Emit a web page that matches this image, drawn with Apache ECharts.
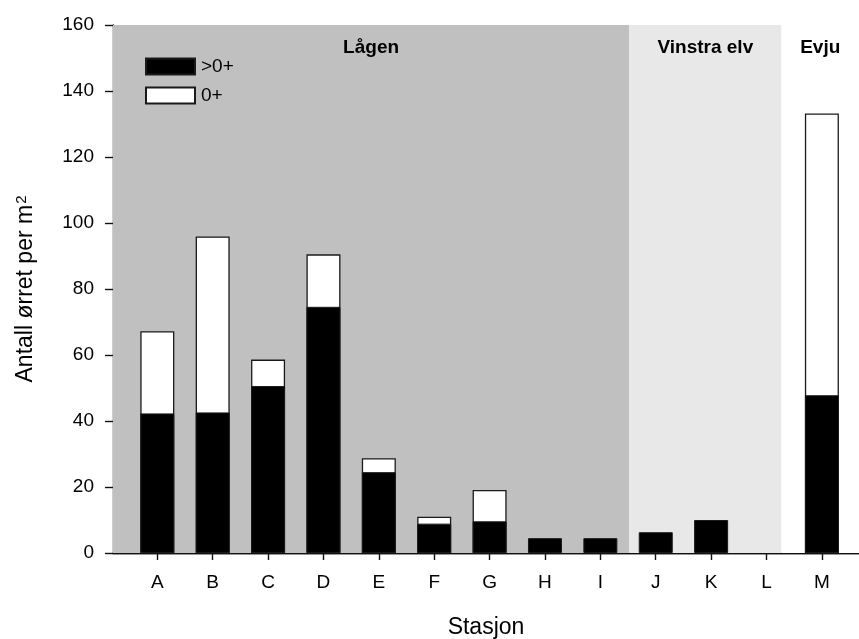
<!DOCTYPE html>
<html>
<head>
<meta charset="utf-8">
<script src="https://cdn.jsdelivr.net/npm/echarts@6/dist/echarts.min.js"></script>
<style>
  html, body { margin: 0; padding: 0; background: #fff; }
  #chart { width: 859px; height: 639px; }
</style>
</head>
<body>
<div id="chart"></div>
<script>
// Stations and trout densities (fish per m²)
const stations = ['A', 'B', 'C', 'D', 'E', 'F', 'G', 'H', 'I', 'J', 'K', 'L', 'M'];
const olderFish = [42.3, 42.6, 50.6, 74.6, 24.5, 8.9, 9.6, 4.5, 4.5, 6.3, 10.0, 0, 47.8];   // >0+
const fryFish   = [24.9, 53.3, 8.0, 15.9, 4.2, 2.1, 9.5, 0, 0, 0, 0, 0, 85.4];             // 0+
const yTicks = [0, 20, 40, 60, 80, 100, 120, 140, 160];

// River sections along the station axis (station positions are 1..13)
const sections = [
  { name: 'Lågen',       from: 0.2,   to: 9.52,  color: '#c0c0c0' },
  { name: 'Vinstra elv', from: 9.52,  to: 12.27, color: '#e8e8e8' },
  { name: 'Evju',        from: 12.27, to: 13.67, color: '#ffffff' }
];

const positions = stations.map((_, i) => i + 1);
const font = 'Liberation Sans, Arial, sans-serif';

// The 0+ part sits on top of the >0+ part: draw the full column in white,
// then the >0+ column in black over its lower portion.
const totalData = positions.map((p, i) =>
  fryFish[i] > 0 ? [p, +(olderFish[i] + fryFish[i]).toFixed(2)] : [p, null]);
const olderData = positions.map((p, i) =>
  olderFish[i] > 0 ? [p, olderFish[i]] : [p, null]);

const chart = echarts.init(document.getElementById('chart'), null, { renderer: 'canvas' });

chart.setOption({
  animation: false,
  backgroundColor: '#fff',
  textStyle: { fontFamily: font, color: '#000' },
  grid: { left: 113, right: 0, top: 25, bottom: 86, containLabel: false, outerBoundsMode: 'none' },
  legend: {
    orient: 'vertical',
    left: 140, top: 52,
    itemWidth: 49, itemHeight: 16, itemGap: 10,
    icon: 'rect',
    textStyle: { fontSize: 19, fontFamily: font, color: '#000', padding: [0, 0, 0, 1] },
    data: ['>0+', '0+']
  },
  xAxis: [{
    type: 'value',
    min: 0.2, max: 13.67,
    name: 'Stasjon',
    nameLocation: 'middle',
    nameGap: 63,
    nameTextStyle: { fontSize: 23, fontFamily: font, color: '#000', verticalAlign: 'top' },
    axisLine: { show: true, onZero: false, lineStyle: { color: '#111', width: 1.4 } },
    axisTick: { show: true, length: 7, customValues: positions, lineStyle: { color: '#111', width: 1.4 } },
    axisLabel: {
      customValues: positions,
      formatter: v => stations[Math.round(v) - 1] || '',
      fontSize: 19, color: '#000', fontFamily: font, margin: 20
    },
    splitLine: { show: false }
  }, {
    type: 'value',
    position: 'top',
    min: 0.2, max: 13.67,
    axisLine: { show: true, lineStyle: { color: '#111', width: 1.4 } },
    axisTick: { show: false },
    axisLabel: { show: false },
    splitLine: { show: false }
  }],
  yAxis: {
    type: 'value',
    min: 0, max: 160, interval: 20,
    name: 'Antall ørret per m{sup|2}',
    nameLocation: 'middle',
    nameGap: 75,
    nameRotate: 90,
    nameTextStyle: {
      fontSize: 23, fontFamily: font, color: '#000',
      rich: { sup: { fontSize: 15, verticalAlign: 'top', fontFamily: font, color: '#000', padding: [0, 0, 9, 1] } }
    },
    axisLine: { show: true, lineStyle: { color: '#111', width: 1.4 } },
    axisTick: { show: true, length: 8, lineStyle: { color: '#111', width: 1.4 } },
    axisLabel: {
      fontSize: 19, color: '#000', fontFamily: font, margin: 19,
      customValues: yTicks
    },
    splitLine: { show: false }
  },
  series: [{
    name: '0+',
    type: 'bar',
    barWidth: 34,
    itemStyle: { color: '#fff', borderColor: '#1a1a1a', borderWidth: 1.3 },
    data: totalData,
    markArea: {
      silent: true,
      itemStyle: { borderWidth: 0 },
      label: {
        position: 'insideTop', distance: 13,
        fontSize: 19, fontWeight: 'bold', color: '#000', fontFamily: font
      },
      data: sections.map(s => [
        { name: s.name, xAxis: s.from, yAxis: 0, itemStyle: { color: s.color, opacity: 1 } },
        { xAxis: s.to, yAxis: 160 }
      ])
    },
    z: 2
  }, {
    name: '>0+',
    type: 'bar',
    barWidth: 34,
    barGap: '-100%',
    itemStyle: { color: '#000', borderColor: '#1a1a1a', borderWidth: 1 },
    data: olderData,
    z: 3
  }]
});
</script>
</body>
</html>
